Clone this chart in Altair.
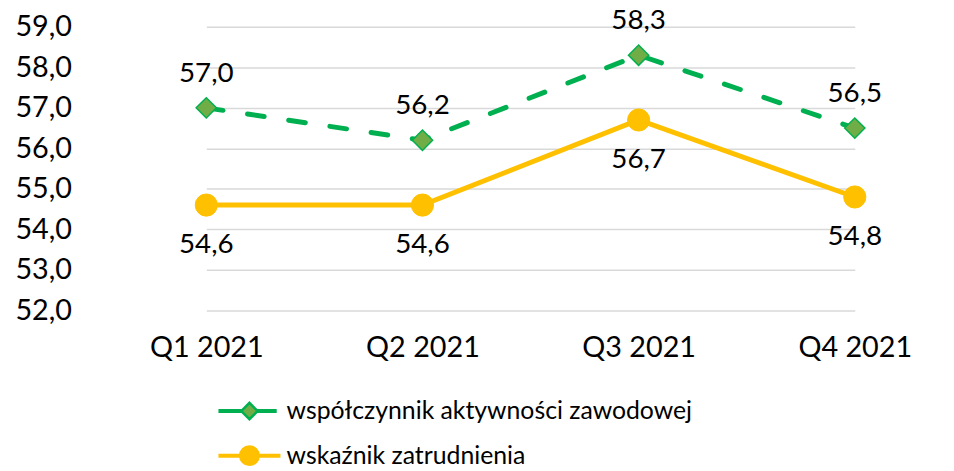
import altair as alt
import pandas as pd

quarters = ["Q1 2021", "Q2 2021", "Q3 2021", "Q4 2021"]
activity = [57.0, 56.2, 58.3, 56.5]
employment = [54.6, 54.6, 56.7, 54.8]
series_names = ["współczynnik aktywności zawodowej", "wskaźnik zatrudnienia"]
y_ticks = [52, 53, 54, 55, 56, 57, 58, 59]

rows = []
for q, a, e in zip(quarters, activity, employment):
    rows.append({"q": q, "series": series_names[0], "v": a})
    rows.append({"q": q, "series": series_names[1], "v": e})
df = pd.DataFrame(rows)

FONT = "Lato"
FS_AXIS = 29
FS_LAB = 28
FS_LEG = 25
GREEN = "#00B050"
OLIVE = "#70AD47"
YELLOW = "#FFC000"

PATH_GREEN = ("M-2,-0.05H-0.5V0.05H-2Z M0.5,-0.05H1.75V0.05H0.5Z "
              "M-0.55,0L0,-0.55L0.55,0L0,0.55Z")
PATH_YELLOW = ("M-2,-0.05H2V0.05H-2Z "
               "M-0.62,0A0.62,0.62 0 1,1 0.62,0A0.62,0.62 0 1,1 -0.62,0Z")

x = alt.X("q:N", sort=quarters,
          scale=alt.Scale(type="point", padding=0, range=[108, 762]),
          axis=alt.Axis(title=None, labelAngle=0, ticks=False, domain=False, grid=False,
                        labelFontSize=FS_AXIS, labelFont=FONT, labelColor="#000000",
                        labelPadding=23))
y = alt.Y("v:Q",
          scale=alt.Scale(domain=[52, 59], nice=False, zero=False),
          axis=alt.Axis(title=None, values=y_ticks, ticks=False, domain=False,
                        gridColor="#D9D9D9", gridWidth=1.5,
                        labelExpr="replace(format(datum.value, '.1f'), '.', ',')",
                        labelFontSize=FS_AXIS, labelFont=FONT, labelColor="#000000",
                        labelPadding=28))

base = alt.Chart(df)
green_data = base.transform_filter(alt.datum.series == series_names[0])
yellow_data = base.transform_filter(alt.datum.series == series_names[1])

line_green = green_data.mark_line(strokeWidth=5, strokeCap="round", strokeDash=[17, 25],
                                  color=GREEN).encode(x=x, y=y)
line_yellow = yellow_data.mark_line(strokeWidth=5, strokeCap="round",
                                    color=YELLOW).encode(x=x, y=y)

diamonds = green_data.mark_point(
    shape="diamond", size=420, filled=True, fill=OLIVE, stroke=GREEN, strokeWidth=1.5, opacity=1
).encode(x=x, y=y)

circles = yellow_data.mark_point(
    shape="circle", size=500, filled=True, fill=YELLOW, stroke=YELLOW, strokeWidth=1, opacity=1
).encode(x=x, y=y)

label_calc = "replace(format(datum.v, '.1f'), '.', ',')"

text_green = green_data.transform_calculate(lab=label_calc).mark_text(
    dy=-34, font=FONT, fontSize=FS_LAB, color="#000000", baseline="middle", align="center"
).encode(x=x, y=y, text="lab:N")
text_yellow = yellow_data.transform_calculate(lab=label_calc).mark_text(
    dy=40, font=FONT, fontSize=FS_LAB, color="#000000", baseline="middle", align="center"
).encode(x=x, y=y, text="lab:N")

leg = alt.Legend(title=None, orient="none", legendX=135, legendY=371, direction="vertical",
                 symbolSize=900, symbolStrokeWidth=2.5, symbolOpacity=1,
                 labelFontSize=FS_LEG, labelFont=FONT, labelColor="#000000",
                 labelOffset=21, rowPadding=15, padding=0, labelLimit=0)

legend_layer = base.transform_filter("false").mark_point(filled=True, opacity=1).encode(
    x=x, y=y,
    shape=alt.Shape("series:N", scale=alt.Scale(domain=series_names, range=[PATH_GREEN, PATH_YELLOW]),
                    legend=leg),
    fill=alt.Fill("series:N", scale=alt.Scale(domain=series_names, range=[OLIVE, YELLOW]), legend=leg),
    stroke=alt.Stroke("series:N", scale=alt.Scale(domain=series_names, range=[GREEN, YELLOW]), legend=leg),
)

chart = alt.layer(line_green, line_yellow, diamonds, circles, text_green, text_yellow,
                  legend_layer).properties(
    width=854, height=286,
    background="white",
    autosize=alt.AutoSizeParams(type="none"),
    padding={"left": 92, "top": 17, "right": 0, "bottom": 160},
).configure_view(stroke=None)

chart.save("out.html", embed_options={"renderer": "svg", "actions": False})
